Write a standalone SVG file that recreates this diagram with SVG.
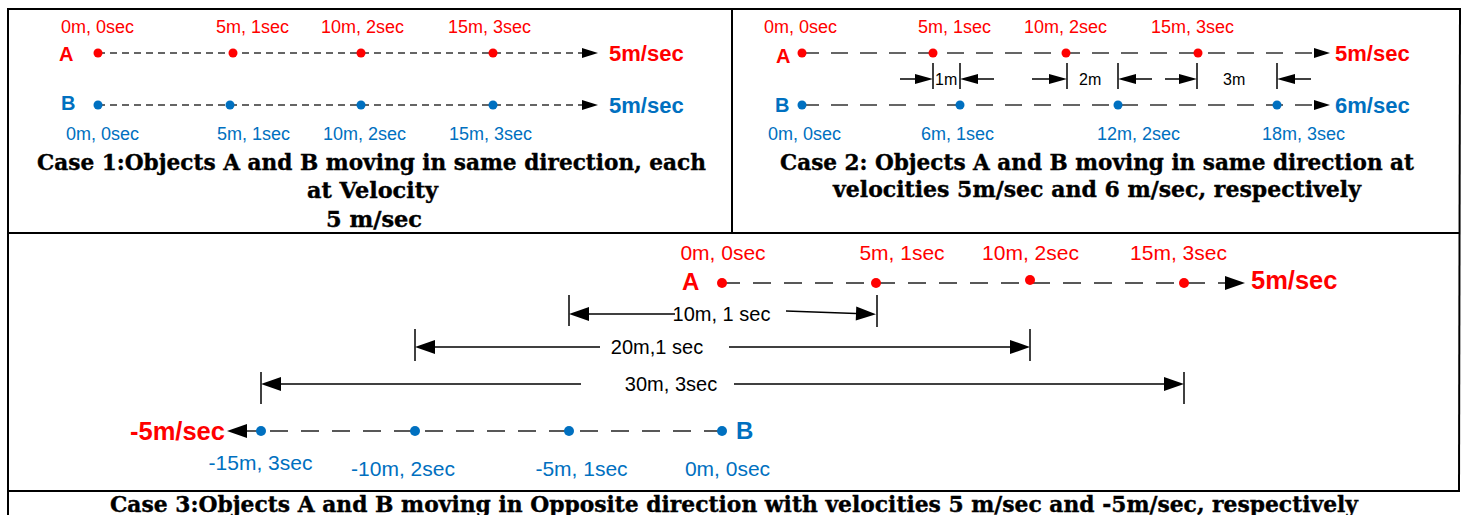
<svg xmlns="http://www.w3.org/2000/svg" width="1468" height="515" viewBox="0 0 1468 515">
<style>
.t{font-family:"Liberation Sans",Arial,sans-serif}
.r{fill:#ff0000}
.b{fill:#0070c0}
.k{fill:#000}
.s18{font-size:18px}
.s21{font-size:21px}
.s20{font-size:20px}
.s16{font-size:16px}
.bd{font-weight:bold}
.cap{font-family:"DejaVu Serif","Liberation Serif",serif;font-weight:bold;font-size:23px;fill:#000;stroke:#000;stroke-width:0.4}
.d1{stroke:#333;stroke-width:1.5;stroke-dasharray:7 5;fill:none}
.d2{stroke:#333;stroke-width:1.5;stroke-dasharray:17 12;fill:none}
.d3{stroke:#222;stroke-width:1.5;stroke-dasharray:18 13;fill:none}
.dim{stroke:#000;stroke-width:1.5;fill:none}
.frame{stroke:#000;stroke-width:2;fill:none}
.dr{fill:#ff0000}
.db{fill:#0070c0}
</style>
<defs>
<marker id="ah1" markerUnits="userSpaceOnUse" markerWidth="16" markerHeight="10" refX="0" refY="5" orient="auto" overflow="visible"><path d="M0,0 L16,5 L0,10 Z" fill="#000"/></marker>
<marker id="ah2" markerUnits="userSpaceOnUse" markerWidth="18" markerHeight="10" refX="0" refY="5" orient="auto" overflow="visible"><path d="M0,0 L18,5 L0,10 Z" fill="#000"/></marker>
<marker id="ah3" markerUnits="userSpaceOnUse" markerWidth="20" markerHeight="14" refX="0" refY="7" orient="auto" overflow="visible"><path d="M0,0 L20,7 L0,14 Z" fill="#000"/></marker>
</defs>

<g id="frame" class="frame">
<line x1="7" y1="9" x2="1461" y2="9"/>
<line x1="8" y1="9" x2="8" y2="515"/>
<line x1="1460" y1="9" x2="1459" y2="492"/>
<line x1="732" y1="9" x2="732" y2="233"/>
<line x1="8" y1="233" x2="1460" y2="233"/>
<line x1="8" y1="491" x2="1459" y2="491"/>
</g>

<g id="connectors">
<line class="d1" x1="98" y1="53" x2="582" y2="53" marker-end="url(#ah1)"/>
<line class="d1" x1="98" y1="105" x2="582" y2="105" marker-end="url(#ah1)"/>
<line class="d2" x1="802" y1="53" x2="1314" y2="53" marker-end="url(#ah1)"/>
<line class="d2" x1="802" y1="105" x2="1314" y2="105" marker-end="url(#ah1)"/>
<g id="case2-dims" class="dim">
<line x1="933" y1="63" x2="933" y2="89"/>
<line x1="960" y1="63" x2="960" y2="89"/>
<line x1="1067" y1="63" x2="1067" y2="89"/>
<line x1="1118" y1="63" x2="1118" y2="89"/>
<line x1="1197" y1="63" x2="1197" y2="89"/>
<line x1="1277" y1="63" x2="1277" y2="89"/>
<line x1="900" y1="79" x2="915" y2="79" marker-end="url(#ah2)"/>
<line x1="994" y1="79" x2="978" y2="79" marker-end="url(#ah2)"/>
<line x1="1032" y1="79" x2="1049" y2="79" marker-end="url(#ah2)"/>
<line x1="1152" y1="79" x2="1136" y2="79" marker-end="url(#ah2)"/>
<line x1="1165" y1="79" x2="1179" y2="79" marker-end="url(#ah2)"/>
<line x1="1311" y1="79" x2="1295" y2="79" marker-end="url(#ah2)"/>
</g>
<line class="d3" x1="722" y1="283" x2="1225" y2="283" marker-end="url(#ah3)"/>
<line class="d3" x1="722" y1="431" x2="247" y2="431" marker-end="url(#ah3)"/>
<g id="case3-dims" class="dim">
<line x1="569" y1="295" x2="569" y2="326"/>
<line x1="877" y1="295" x2="877" y2="327"/>
<line x1="675" y1="314" x2="589" y2="314" marker-end="url(#ah3)"/>
<line x1="786" y1="311" x2="856" y2="313.5" marker-end="url(#ah3)"/>
<line x1="415" y1="329" x2="415" y2="361"/>
<line x1="1030" y1="329" x2="1030" y2="361"/>
<line x1="600" y1="347" x2="435" y2="347" marker-end="url(#ah3)"/>
<line x1="729" y1="347" x2="1010" y2="347" marker-end="url(#ah3)"/>
<line x1="261" y1="372" x2="261" y2="404"/>
<line x1="1184" y1="372" x2="1184" y2="404"/>
<line x1="581" y1="384" x2="281" y2="384" marker-end="url(#ah3)"/>
<line x1="734" y1="384" x2="1164" y2="384" marker-end="url(#ah3)"/>
</g>
</g>

<g id="case1">
<g id="case1-A">
<text class="t bd r s20" x="59" y="61">A</text>
<circle class="dr" cx="98" cy="53" r="4.5"/><circle class="dr" cx="233" cy="53" r="4.5"/><circle class="dr" cx="361" cy="53" r="4.5"/><circle class="dr" cx="493" cy="53" r="4.5"/>
<text class="t r s18" x="61" y="33">0m, 0sec</text>
<text class="t r s18" x="216" y="33">5m, 1sec</text>
<text class="t r s18" x="321" y="33">10m, 2sec</text>
<text class="t r s18" x="448" y="33">15m, 3sec</text>
<text class="t bd r" style="font-size:22px" x="609" y="61">5m/sec</text>
</g>
<g id="case1-B">
<text class="t bd b s20" x="61" y="110">B</text>
<circle class="db" cx="98" cy="105" r="4.5"/><circle class="db" cx="230" cy="105" r="4.5"/><circle class="db" cx="361" cy="105" r="4.5"/><circle class="db" cx="493" cy="105" r="4.5"/>
<text class="t b s18" x="66" y="139.5">0m, 0sec</text>
<text class="t b s18" x="217" y="139.5">5m, 1sec</text>
<text class="t b s18" x="323" y="139.5">10m, 2sec</text>
<text class="t b s18" x="449" y="139.5">15m, 3sec</text>
<text class="t bd b" style="font-size:22px" x="609" y="113">5m/sec</text>
</g>
<g id="case1-caption">
<text class="cap" x="37" y="170" textLength="669" lengthAdjust="spacingAndGlyphs">Case 1:Objects A and B moving in same direction, each</text>
<text class="cap" x="307" y="198" textLength="131" lengthAdjust="spacingAndGlyphs">at Velocity</text>
<text class="cap" x="326" y="227" textLength="96" lengthAdjust="spacingAndGlyphs">5 m/sec</text>
</g>
</g>

<g id="case2">
<g id="case2-A">
<text class="t bd r s20" x="776" y="63">A</text>
<circle class="dr" cx="802" cy="53" r="4.5"/><circle class="dr" cx="933" cy="53" r="4.5"/><circle class="dr" cx="1066" cy="53" r="4.5"/><circle class="dr" cx="1198" cy="53" r="4.5"/>
<text class="t r s18" x="764" y="33">0m, 0sec</text>
<text class="t r s18" x="918" y="33">5m, 1sec</text>
<text class="t r s18" x="1024" y="33">10m, 2sec</text>
<text class="t r s18" x="1151" y="33">15m, 3sec</text>
<text class="t bd r" style="font-size:22px" x="1335" y="61">5m/sec</text>
</g>
<g id="case2-B">
<text class="t bd b s20" x="775" y="112">B</text>
<circle class="db" cx="802" cy="105" r="4.5"/><circle class="db" cx="960" cy="105" r="4.5"/><circle class="db" cx="1118" cy="105" r="4.5"/><circle class="db" cx="1277" cy="105" r="4.5"/>
<text class="t b s18" x="768" y="139.5">0m, 0sec</text>
<text class="t b s18" x="921" y="139.5">6m, 1sec</text>
<text class="t b s18" x="1097" y="139.5">12m, 2sec</text>
<text class="t b s18" x="1262" y="139.5">18m, 3sec</text>
<text class="t bd b" style="font-size:22px" x="1335" y="113">6m/sec</text>
</g>
<g id="case2-dimlabels">
<text class="t k s16" x="935" y="85">1m</text>
<text class="t k s16" x="1079" y="85">2m</text>
<text class="t k s16" x="1223" y="85">3m</text>
</g>
<g id="case2-caption">
<text class="cap" x="780" y="170" textLength="634" lengthAdjust="spacingAndGlyphs">Case 2: Objects A and B moving in same direction at</text>
<text class="cap" x="833" y="197" textLength="528" lengthAdjust="spacingAndGlyphs">velocities 5m/sec and 6 m/sec, respectively</text>
</g>
</g>

<g id="case3">
<g id="case3-A">
<text class="t bd r" style="font-size:24px" x="682" y="290">A</text>
<circle class="dr" cx="722" cy="283" r="5"/><circle class="dr" cx="876" cy="283" r="5"/><circle class="dr" cx="1030" cy="280" r="5"/><circle class="dr" cx="1184" cy="283" r="5"/>
<text class="t r s21" text-anchor="middle" x="723" y="259.5">0m, 0sec</text>
<text class="t r s21" text-anchor="middle" x="902" y="259.5">5m, 1sec</text>
<text class="t r s21" text-anchor="middle" x="1030.5" y="259.5">10m, 2sec</text>
<text class="t r s21" text-anchor="middle" x="1178.5" y="259.5">15m, 3sec</text>
<text class="t bd r" style="font-size:25.5px" x="1251" y="289">5m/sec</text>
</g>
<g id="case3-B">
<text class="t bd b" style="font-size:24px" x="736" y="439">B</text>
<circle class="db" cx="261" cy="431" r="5"/><circle class="db" cx="415" cy="431" r="5"/><circle class="db" cx="569" cy="431" r="5"/><circle class="db" cx="722" cy="431" r="5"/>
<text class="t b s21" text-anchor="middle" x="260.5" y="469.5">-15m, 3sec</text>
<text class="t b s21" text-anchor="middle" x="403" y="475.5">-10m, 2sec</text>
<text class="t b s21" text-anchor="middle" x="581.5" y="475.5">-5m, 1sec</text>
<text class="t b s21" text-anchor="middle" x="727.5" y="475.5">0m, 0sec</text>
<text class="t bd r" style="font-size:25.5px" x="130" y="440">-5m/sec</text>
</g>
<g id="case3-dimlabels">
<text class="t k s20" text-anchor="middle" x="721.5" y="321">10m, 1 sec</text>
<text class="t k s20" text-anchor="middle" x="657" y="354">20m,1 sec</text>
<text class="t k s20" text-anchor="middle" x="671" y="391">30m, 3sec</text>
</g>
<g id="case3-caption">
<text class="cap" x="110" y="512" textLength="1248" lengthAdjust="spacingAndGlyphs">Case 3:Objects A and B moving in Opposite direction with velocities 5 m/sec and -5m/sec, respectively</text>
</g>
</g>
</svg>
